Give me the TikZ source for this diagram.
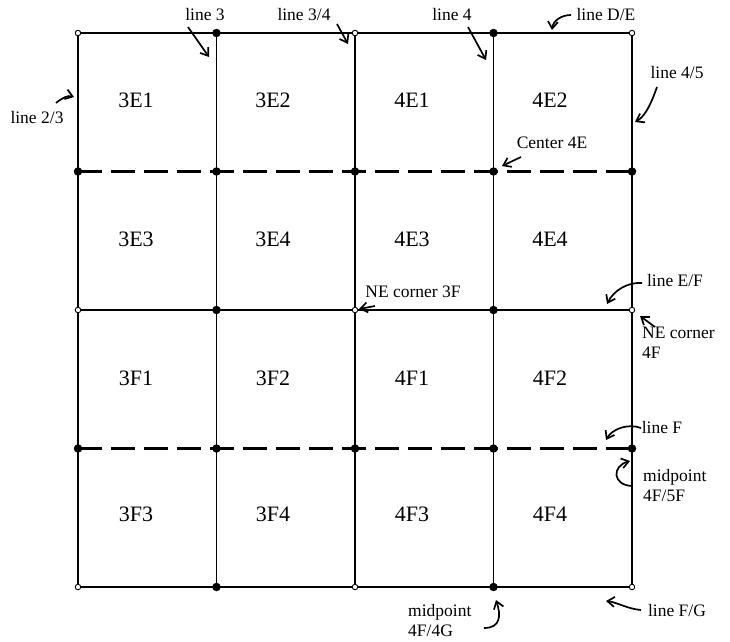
\documentclass[tikz,border=0pt]{standalone}
\usepackage{fontspec}
\setmainfont{Liberation Serif}
\usetikzlibrary{arrows.meta}
\begin{document}
\begin{tikzpicture}[x=1pt,y=-1pt,
  outerline/.style={line width=2.8pt},
  midline/.style={line width=2.3pt},
  thinline/.style={line width=1.4pt},
  dashline/.style={line width=2.8pt,dash pattern=on 24pt off 9pt},
  fdot/.style={circle,fill=black,inner sep=0pt,minimum size=8.5pt},
  odot/.style={circle,draw=black,fill=white,line width=0.9pt,inner sep=0pt,minimum size=5.5pt},
  cell/.style={font=\fontsize{22}{24}\selectfont,inner sep=0pt},
  lab/.style={font=\fontsize{17.5}{19}\selectfont,inner sep=0pt},
  labl/.style={font=\fontsize{17.5}{20}\selectfont,inner sep=0pt,align=left,anchor=west},
  pointer/.style={line width=1.7pt,-{Straight Barb[length=7pt,width=10pt,line width=1.7pt]}}]
\useasboundingbox (0,0) rectangle (730,641);
% grid coordinates
\foreach \i/\xx in {0/78,1/216.5,2/355,3/493.5,4/632}{
  \foreach \j/\yy in {0/33,1/171.5,2/310,3/448.5,4/587}{
    \coordinate (g\i\j) at (\xx,\yy);
  }
}
% lines
\draw[thinline] (g10) -- (g14);
\draw[thinline] (g30) -- (g34);
\draw[dashline] (g01) -- (g41);
\draw[dashline] (g03) -- (g43);
\draw[midline] (g02) -- (g42);
\draw[midline] (g20) -- (g24);
\draw[outerline] (g00) -- (g40) -- (g44) -- (g04) -- cycle;
% filled dots
\foreach \p in {10,30,01,11,21,31,41,12,32,03,13,23,33,43,14,34}{
  \node[fdot] at (g\p) {};
}
% open dots
\foreach \p in {00,20,40,02,22,42,04,24,44}{
  \node[odot] at (g\p) {};
}
% cell labels
\node[cell] (c3E1) at (136,100) {3E1};
\node[cell] (c3E2) at (273,100) {3E2};
\node[cell] (c4E1) at (412,100) {4E1};
\node[cell] (c4E2) at (550,100) {4E2};
\node[cell] (c3E3) at (136,239) {3E3};
\node[cell] (c3E4) at (273,239) {3E4};
\node[cell] (c4E3) at (412,239) {4E3};
\node[cell] (c4E4) at (550,239) {4E4};
\node[cell] (c3F1) at (136,378) {3F1};
\node[cell] (c3F2) at (273,378) {3F2};
\node[cell] (c4F1) at (412,378) {4F1};
\node[cell] (c4F2) at (550,378) {4F2};
\node[cell] (c3F3) at (136,514) {3F3};
\node[cell] (c3F4) at (273,514) {3F4};
\node[cell] (c4F3) at (412,514) {4F3};
\node[cell] (c4F4) at (550,514) {4F4};
% annotation labels
\node[lab] (l3) at (205,15) {line 3};
\node[lab] (l23) at (37,118) {line 2/3};
\node[lab] (l34) at (304,15) {line 3/4};
\node[lab] (l4) at (452,15) {line 4};
\node[lab] (lDE) at (606,15) {line D/E};
\node[lab] (l45) at (677,73) {line 4/5};
\node[lab] (lc4E) at (552,143) {Center 4E};
\node[lab] (lne3F) at (413,292) {NE corner 3F};
\node[lab] (lEF) at (675,281) {line E/F};
\node[labl] (lne4F) at (642,343) {NE corner\\4F};
\node[lab] (lF) at (662,428) {line F};
\node[labl] (lmid5F) at (643,486) {midpoint\\4F/5F};
\node[labl] (lmid4G) at (408,620) {midpoint\\4F/4G};
\node[lab] (lFG) at (677,610) {line F/G};
% arrow tips and tails
\coordinate (t3) at (209,57);   \coordinate (s3) at (188,27);
\coordinate (t23) at (74,97);   \coordinate (s23) at (56,103);
\coordinate (t34) at (348,44);  \coordinate (s34) at (337,24);
\coordinate (t4) at (486,60);   \coordinate (s4) at (468,27);
\coordinate (tDE) at (552,30);  \coordinate (sDE) at (571,15);
\coordinate (t45) at (635,122); \coordinate (s45) at (657,87);
\coordinate (tc4E) at (502,166); \coordinate (sc4E) at (521,157);
\coordinate (tne3F) at (359,309); \coordinate (sne3F) at (375,306);
\coordinate (tEF) at (607,304); \coordinate (sEF) at (642,283);
\coordinate (tne4F) at (640,316); \coordinate (sne4F) at (655,327);
\coordinate (tF) at (606,440);  \coordinate (sF) at (641,428);
\coordinate (tmid5F) at (630,461); \coordinate (smid5F) at (632,486);
\coordinate (tmid4G) at (496,600); \coordinate (smid4G) at (484,628);
\coordinate (tFG) at (606,601); \coordinate (sFG) at (641,610);
% arrows
\draw[pointer] (s3) -- (t3);
\draw[pointer] (s23) .. controls (62,98) and (68,95) .. (t23);
\draw[pointer] (s34) -- (t34);
\draw[pointer] (s4) -- (t4);
\draw[pointer] (sDE) .. controls (561,15) and (553,21) .. (tDE);
\draw[pointer] (s45) .. controls (652,101) and (646,116) .. (t45);
\draw[pointer] (sc4E) -- (tc4E);
\draw[pointer] (sne3F) -- (tne3F);
\draw[pointer] (sEF) .. controls (628,282) and (614,290) .. (tEF);
\draw[pointer] (sne4F) -- (tne4F);
\draw[pointer] (sF) .. controls (628,423) and (612,429) .. (tF);
\draw[pointer] (smid5F) .. controls (612,485) and (612,466) .. (tmid5F);
\draw[pointer] (smid4G) .. controls (501,628) and (501,615) .. (tmid4G);
\draw[pointer] (sFG) .. controls (628,609) and (616,602) .. (tFG);
\end{tikzpicture}
\end{document}
